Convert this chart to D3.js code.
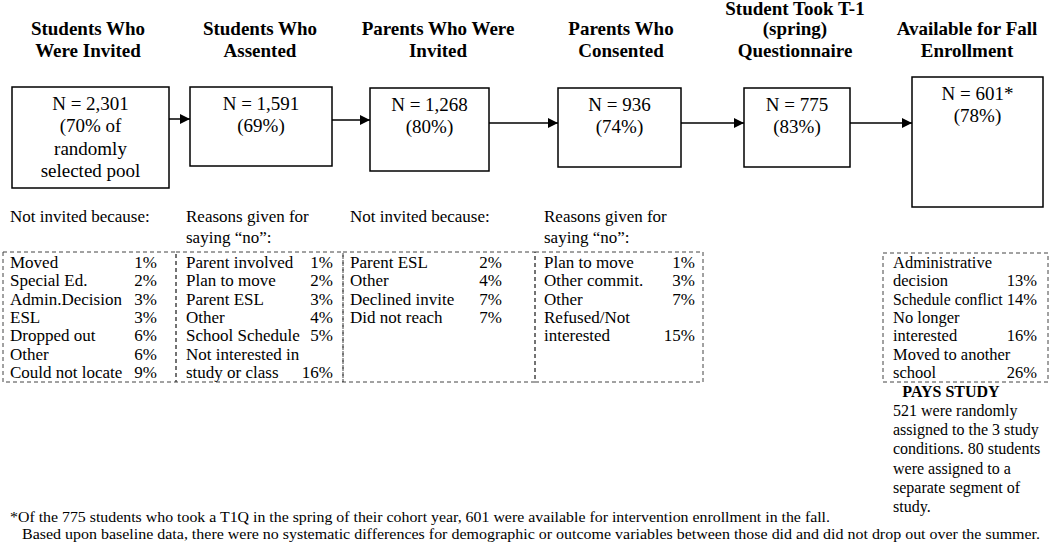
<!DOCTYPE html>
<html><head><meta charset="utf-8">
<script src="https://cdn.jsdelivr.net/npm/d3@7"></script>
<style>
html,body{margin:0;padding:0;background:#fff;}
svg{display:block;font-family:"Liberation Serif","Times New Roman",serif;}
</style></head>
<body>
<script>
// ---------- DATA ----------
const stageTitles = [
  ["Students Who","Were Invited"],
  ["Students Who","Assented"],
  ["Parents Who Were","Invited"],
  ["Parents Who","Consented"],
  ["Student Took T-1","(spring)","Questionnaire"],
  ["Available for Fall","Enrollment"]
];
const stageN = ["2,301","1,591","1,268","936","775","601*"];
const stagePct = [
  ["(70% of","randomly","selected pool"],
  ["(69%)"],["(80%)"],["(74%)"],["(83%)"],["(78%)"]
];
const reasonTitles = [
  ["Not invited because:"],
  ["Reasons given for","saying \u201cno\u201d:"],
  ["Not invited because:"],
  ["Reasons given for","saying \u201cno\u201d:"],
  [],
  []
];
const reasons1 = [["Moved",1],["Special Ed.",2],["Admin.Decision",3],["ESL",3],["Dropped out",6],["Other",6],["Could not locate",9]];
const reasons2 = [["Parent involved",1],["Plan to move",2],["Parent ESL",3],["Other",4],["School Schedule",5],["Not interested in|study or class",16]];
const reasons3 = [["Parent ESL",2],["Other",4],["Declined invite",7],["Did not reach",7]];
const reasons4 = [["Plan to move",1],["Other commit.",3],["Other",7],["Refused/Not|interested",15]];
const reasons6 = [["Administrative|decision",13],["Schedule conflict",14],["No longer|interested",16],["Moved to another|school",26]];
const paysTitle = "PAYS STUDY";
const paysText = ["521 were randomly","assigned to the 3 study","conditions. 80 students","were assigned to a","separate segment of","study."];
const footnotes = [
  "*Of the 775 students who took a T1Q in the spring of their cohort year, 601 were available for intervention enrollment in the fall.",
  "Based upon baseline data, there were no systematic differences for demographic or outcome variables between those did and did not drop out over the summer."
];

// ---------- LAYOUT ----------
const W = 1050, H = 546;
const boxes = [
  {x0:12,x1:169,y0:87,y1:188},
  {x0:190,x1:332,y0:87,y1:166},
  {x0:370,x1:489,y0:88,y1:171},
  {x0:558,x1:681,y0:88,y1:167},
  {x0:744,x1:850,y0:88,y1:167},
  {x0:912,x1:1043,y0:77,y1:207}
];
const arrowY = [119,120,123,123,123];
const headerX = [88,260,438,621,795,967];
const reasonGroups = [
  {data:reasons1, tx:10, vx:157, x0:3, x1:176, y0:252, fs:17},
  {data:reasons2, tx:186, vx:333, x0:176, x1:343, y0:252, fs:17},
  {data:reasons3, tx:350, vx:502, x0:343, x1:535, y0:252, fs:17},
  {data:reasons4, tx:544, vx:695, x0:535, x1:703, y0:252, fs:17},
  null,
  {data:reasons6, tx:893, vx:1037, x0:883, x1:1048, y0:253, fs:16.5}
];

const svg = d3.select("body").append("svg").attr("width",W).attr("height",H);
svg.append("defs").append("marker")
  .attr("id","arr").attr("viewBox","0 0 10 10").attr("refX",10).attr("refY",5)
  .attr("markerWidth",10).attr("markerHeight",10).attr("markerUnits","userSpaceOnUse")
  .attr("orient","auto")
  .append("path").attr("d","M0,0L10,5L0,10Z").attr("fill","#000");

const lineStep = 22;
// headers
stageTitles.forEach((lines,i)=>{
  const last = 57;
  lines.forEach((t,j)=>{
    const y = Math.max(15, last-(lines.length-1-j)*lineStep);
    svg.append("text").attr("x",headerX[i]).attr("y",y)
      .attr("text-anchor","middle").attr("font-weight","bold").attr("font-size",19).text(t);
  });
});
// boxes
svg.selectAll("rect.stage").data(boxes).join("rect").attr("class","stage")
  .attr("x",d=>d.x0).attr("y",d=>d.y0).attr("width",d=>d.x1-d.x0).attr("height",d=>d.y1-d.y0)
  .attr("fill","#fff").attr("stroke","#000").attr("stroke-width",1.5);
boxes.forEach((b,i)=>{
  const cx=(b.x0+b.x1)/2;
  const lines=["N = "+stageN[i]].concat(stagePct[i]);
  lines.forEach((t,j)=>{
    svg.append("text").attr("x",cx).attr("y",b.y0+23+j*22.3).attr("text-anchor","middle")
      .attr("font-size",19).text(t);
  });
});
// arrows
d3.range(5).forEach(i=>{
  svg.append("line").attr("x1",boxes[i].x1).attr("x2",boxes[i+1].x0)
    .attr("y1",arrowY[i]).attr("y2",arrowY[i]).attr("stroke","#000").attr("stroke-width",1.5)
    .attr("marker-end","url(#arr)");
});
// reason titles
reasonTitles.forEach((lines,i)=>{
  const g=reasonGroups[i]; if(!g) return;
  lines.forEach((t,j)=>{
    svg.append("text").attr("x",g.tx).attr("y",222+j*21).attr("font-size",17).text(t);
  });
});
// reason boxes
const rowY = d3.scaleLinear().domain([0,1]).range([268,286.3]);
reasonGroups.forEach(g=>{
  if(!g) return;
  svg.append("rect").attr("x",g.x0).attr("y",g.y0)
    .attr("width",g.x1-g.x0).attr("height",382-g.y0)
    .attr("fill","none").attr("stroke","#444").attr("stroke-width",1).attr("stroke-dasharray","4,3");
  let row=0;
  g.data.forEach(([label,val])=>{
    const parts=label.split("|");
    parts.forEach((p,k)=>{
      const lt = svg.append("text").attr("x",g.tx).attr("y",rowY(row)).attr("font-size",g.fs).text(p);
      if(k===parts.length-1){
        const vt = svg.append("text").attr("x",g.vx).attr("y",rowY(row)).attr("text-anchor","end")
          .attr("font-size",g.fs).text(val+"%");
        const lw = lt.node().getComputedTextLength();
        const vw = vt.node().getComputedTextLength();
        const avail = g.vx - vw - 4 - g.tx;
        if(lw > avail){
          lt.attr("textLength",avail).attr("lengthAdjust","spacingAndGlyphs");
        }
      }
      row++;
    });
  });
});
// PAYS
svg.append("text").attr("x",951).attr("y",397).attr("text-anchor","middle")
  .attr("font-weight","bold").attr("font-size",16).text(paysTitle);
paysText.forEach((t,j)=>{
  svg.append("text").attr("x",893).attr("y",416+j*19.2).attr("font-size",16).text(t);
});
// footnotes
svg.append("text").attr("x",10).attr("y",522).attr("font-size",15)
  .attr("textLength",820).attr("lengthAdjust","spacingAndGlyphs").text(footnotes[0]);
svg.append("text").attr("x",22).attr("y",539).attr("font-size",15)
  .attr("textLength",1018).attr("lengthAdjust","spacingAndGlyphs").text(footnotes[1]);
</script>
</body></html>
